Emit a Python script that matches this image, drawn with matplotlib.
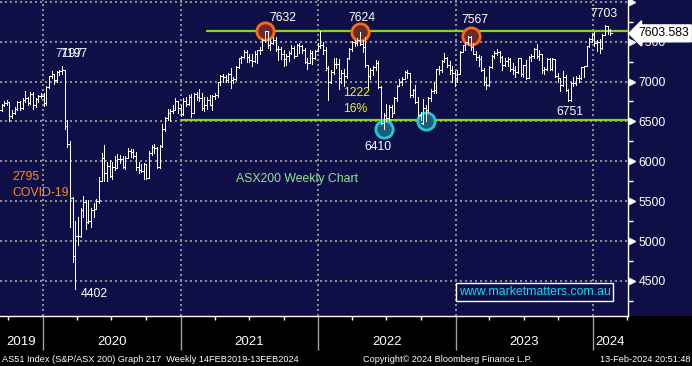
import matplotlib
matplotlib.use('Agg')
import matplotlib.pyplot as plt
import matplotlib.dates as mdates
import matplotlib.transforms as mtransforms
from matplotlib.patches import Rectangle
import numpy as np
import pandas as pd

# ---------------- data (weekly OHLC, S&P/ASX 200) ----------------
first_week = '2019-09-06'   # first weekly bar (Friday)

opens = [
    6600, 6647, 6706, 6730,  6740, 6569, 6607, 6651,  6739, 6670, 6771, 6795, 6730,  6846, 6700, 6775, 6816,
    # 2020
    6821, 6733, 6929, 7065, 7090,  7017, 7118, 7131, 7139,  6441, 6216, 5539, 4817,  5066, 5067, 5388, 5487,
    5242, 5245, 5391, 5405, 5497,  5755, 6037, 5847, 5942,  5817, 5934, 5920, 6034, 6024,  5928, 6046, 6126, 6111,
    6061, 5925, 5885, 5873,  5964, 5791, 6102, 6180, 6168,  5927, 6190, 6405, 6540,  6601, 6635, 6643, 6756, 6665,
    # 2021
    6587, 6757, 6715, 6800,  6607, 6840, 6800, 6793,  6673, 6711, 6767, 6708,  6824, 6828, 6995, 7063, 7060,
    7025, 7094, 7014, 7030,  7179, 7295, 7312, 7369,  7308, 7273, 7256, 7349, 7394,  7393, 7517, 7628, 7460,
    7488, 7522, 7406, 7403,  7342, 7276, 7320, 7363, 7415,  7324, 7457, 7443, 7396,  7239, 7233, 7354, 7293, 7387,
    # 2022
    7444, 7453, 7393, 7174,  6988, 7120, 7217, 7221,  7049, 7111, 7064, 7294,  7406, 7493, 7478, 7523, 7474,
    7435, 7205, 7075, 7145,  7182, 7238, 6931, 6475,  6578, 6548, 6675, 6605, 6792,  6945, 7000, 7033, 7115,
    7104, 6829, 6895, 6747, 6574,  6474, 6663, 6644, 6791,  6886, 6892, 7158, 7140,  7259, 7301, 7213, 7147, 7108,
    # 2023
    7039, 7099, 7374, 7452,  7494, 7558, 7433, 7347,  7307, 7284, 7144, 6995, 6955,  7178, 7325, 7362, 7366,
    7309, 7205, 7255, 7279,  7154, 7141, 7117, 7294, 7092,  7203, 7041, 7303, 7325,  7410, 7325, 7340, 7148,
    7159, 7278, 7156, 7279, 7068,  7048, 6958, 7052, 6898,  6770, 6979, 6977, 7049,  7045, 7178, 7194, 7442, 7535,
    # 2024
    7591, 7489, 7498, 7422,  7588, 7699, 7644,
]
highs = [
    6660, 6720, 6760, 6770,  6745, 6640, 6680, 6760,  6760, 6790, 6880, 6810, 6870,  6870, 6790, 6830, 6850,
    # 2020
    6850, 6940, 7070, 7130, 7100,  7130, 7150, 7197, 7140,  6520, 6260, 5550, 5250,  5300, 5420, 5560, 5520,
    5520, 5420, 5480, 5530, 5800,  6100, 6200, 5990, 6010,  5990, 6060, 6090, 6080, 6060,  6060, 6170, 6160, 6150,
    6110, 5990, 5970, 5980,  5970, 6130, 6200, 6220, 6180,  6200, 6470, 6560, 6650,  6660, 6700, 6790, 6760, 6710,
    # 2021
    6790, 6800, 6830, 6840,  6860, 6870, 6900, 6860,  6800, 6800, 6830, 6830,  6860, 7000, 7080, 7090, 7080,
    7110, 7170, 7060, 7190,  7300, 7320, 7400, 7390,  7340, 7340, 7380, 7400, 7430,  7530, 7632, 7632, 7530,
    7560, 7560, 7450, 7430,  7400, 7340, 7380, 7460, 7440,  7470, 7480, 7460, 7420,  7300, 7390, 7380, 7400, 7480,
    # 2022
    7630, 7500, 7430, 7200,  7140, 7290, 7300, 7280,  7150, 7160, 7300, 7420,  7510, 7520, 7550, 7624, 7520,
    7560, 7210, 7170, 7200,  7270, 7260, 6940, 6600,  6720, 6700, 6700, 6800, 6960,  7030, 7060, 7130, 7140,
    7110, 6910, 6960, 6800, 6620,  6780, 6700, 6800, 6900,  6990, 7160, 7190, 7270,  7360, 7310, 7260, 7190, 7130,
    # 2023
    7140, 7380, 7460, 7500,  7567, 7567, 7480, 7380,  7330, 7320, 7170, 7060, 7190,  7330, 7380, 7410, 7380,
    7320, 7300, 7310, 7290,  7230, 7190, 7300, 7300, 7210,  7270, 7320, 7340, 7420,  7470, 7400, 7340, 7180,
    7290, 7290, 7290, 7280, 7110,  7050, 7130, 7080, 6910,  6990, 7060, 7070, 7080,  7180, 7200, 7450, 7550, 7610,
    # 2024
    7620, 7520, 7530, 7600,  7703, 7700, 7660,
]
lows = [
    6520, 6630, 6690, 6700,  6500, 6540, 6590, 6640,  6640, 6660, 6740, 6700, 6720,  6650, 6680, 6740, 6790,
    # 2020
    6690, 6710, 6920, 7050, 6970,  6990, 7080, 7100, 6400,  6180, 5170, 4740, 4402,  4950, 5050, 5300, 5150,
    5230, 5180, 5300, 5400, 5480,  5750, 5750, 5750, 5800,  5780, 5890, 5920, 5980, 5920,  5900, 6040, 6050, 6040,
    5890, 5850, 5860, 5780,  5780, 5790, 6080, 6100, 5910,  5920, 6180, 6380, 6520,  6500, 6600, 6640, 6600, 6570,
    # 2021
    6580, 6690, 6700, 6560,  6600, 6770, 6760, 6640,  6630, 6650, 6700, 6640,  6780, 6810, 6960, 6990, 6990,
    7000, 6920, 6980, 7020,  7170, 7230, 7290, 7250,  7240, 7200, 7250, 7230, 7350,  7390, 7500, 7420, 7400,
    7470, 7380, 7270, 7280,  7200, 7210, 7260, 7350, 7300,  7320, 7360, 7360, 7230,  7160, 7230, 7220, 7280, 7380,
    # 2022
    7420, 7350, 7140, 6770,  6980, 7100, 7170, 6900,  6980, 6940, 7050, 7280,  7380, 7440, 7460, 7460, 7370,
    7180, 6930, 7030, 7080,  7150, 6920, 6470, 6410,  6500, 6520, 6560, 6600, 6760,  6940, 6960, 7030, 7040,
    6810, 6800, 6730, 6570, 6520,  6470, 6505, 6620, 6760,  6850, 6860, 7100, 7120,  7240, 7180, 7100, 7000, 6940,
    # 2023
    6990, 7090, 7370, 7400,  7470, 7400, 7340, 7270,  7200, 7130, 6960, 6900, 6940,  7170, 7300, 7330, 7250,
    7150, 7200, 7200, 7130,  7100, 7060, 7110, 7070, 7060,  7030, 7040, 7260, 7300,  7300, 7270, 7110, 7090,
    7150, 7140, 7150, 7060, 6990,  6880, 6950, 6880, 6760,  6751, 6950, 6960, 6990,  7030, 7060, 7190, 7430, 7490,
    # 2024
    7440, 7380, 7360, 7410,  7580, 7600, 7580,
]
closes = [
    6647, 6706, 6730, 6740,  6569, 6607, 6651, 6739,  6670, 6771, 6795, 6730, 6846,  6700, 6775, 6816, 6821,
    # 2020
    6733, 6929, 7065, 7090, 7017,  7118, 7131, 7139, 6441,  6216, 5539, 4817, 5066,  5067, 5388, 5487, 5242,
    5245, 5391, 5405, 5497, 5755,  6037, 5847, 5942, 5817,  5934, 5920, 6034, 6024, 5928,  6046, 6126, 6111, 6061,
    5925, 5885, 5873, 5964,  5791, 6102, 6180, 6168, 5927,  6190, 6405, 6540, 6601,  6635, 6643, 6756, 6665, 6587,
    # 2021
    6757, 6715, 6800, 6607,  6840, 6800, 6793, 6673,  6711, 6767, 6708, 6824,  6828, 6995, 7063, 7060, 7025,
    7094, 7014, 7030, 7179,  7295, 7312, 7369, 7308,  7273, 7256, 7349, 7394, 7393,  7517, 7628, 7460, 7488,
    7522, 7406, 7403, 7342,  7276, 7320, 7363, 7415, 7324,  7457, 7443, 7396, 7239,  7233, 7354, 7293, 7387, 7444,
    # 2022
    7453, 7393, 7174, 6988,  7120, 7217, 7221, 7049,  7111, 7064, 7294, 7406,  7493, 7478, 7523, 7474, 7435,
    7205, 7075, 7145, 7182,  7238, 6931, 6475, 6578,  6548, 6675, 6605, 6792, 6945,  7000, 7033, 7115, 7104,
    6829, 6895, 6747, 6574, 6474,  6663, 6644, 6791, 6886,  6892, 7158, 7140, 7259,  7301, 7213, 7147, 7108, 7039,
    # 2023
    7099, 7374, 7452, 7494,  7558, 7433, 7347, 7307,  7284, 7144, 6995, 6955, 7178,  7325, 7362, 7366, 7309,
    7205, 7255, 7279, 7154,  7141, 7117, 7294, 7092, 7203,  7041, 7303, 7325, 7410,  7325, 7340, 7148, 7159,
    7278, 7156, 7279, 7068, 7048,  6958, 7052, 6898, 6770,  6979, 6977, 7049, 7045,  7178, 7194, 7442, 7535, 7591,
    # 2024
    7489, 7498, 7422, 7588,  7699, 7644, 7603.583,
]

year_labels = ['2019', '2020', '2021', '2022', '2023', '2024']
y_major = [4500, 5000, 5500, 6000, 6500, 7000, 7500, 8000]
y_minor = [4250, 4750, 5250, 5750, 6250, 6750, 7250, 7750]
resistance_level = 7630
support_level = 6515
last_price = 7603.583

# annotated swing points (week dates)
peak_weeks = ['2021-08-13', '2022-04-22', '2023-02-10']
trough_weeks = ['2022-06-24', '2022-10-14']

# ---------------- style ----------------
NAVY = '#0f0f48'
GRID = '#8c8c8c'
LIME = '#8fd11a'
FONT = 'Liberation Sans'
W, H = 692, 366
AX_L, AX_R, AX_T, AX_B = 0, 628, 0, 316

fig = plt.figure(figsize=(W / 100, H / 100), dpi=100, facecolor=NAVY)
fig.add_artist(Rectangle((0, 0), 1, (H - AX_B) / H, transform=fig.transFigure,
                         facecolor='black', edgecolor='none', zorder=-5))
ax = fig.add_axes([AX_L / W, (H - AX_B) / H, (AX_R - AX_L) / W, (AX_B - AX_T) / H])
ax.set_facecolor(NAVY)

dates = pd.date_range(first_week, periods=len(closes), freq='W-FRI')
x = mdates.date2num(dates)
o = np.array(opens, float); h = np.array(highs, float)
l = np.array(lows, float); c = np.array(closes, float)

# OHLC bars
tick = 3.5
bar_kw = dict(color='white', lw=0.6, zorder=5, antialiased=False)
ax.vlines(x, l, h, **bar_kw)
ax.hlines(o, x - tick, x, **bar_kw)
ax.hlines(c, x, x + tick, **bar_kw)

x0 = mdates.date2num(pd.Timestamp('2019-09-09'))
x1 = mdates.date2num(pd.Timestamp('2024-04-03'))
ax.set_xlim(x0, x1)
ax.set_ylim(4060, 8022)

# support / resistance lines
ax.hlines(resistance_level, mdates.date2num(pd.Timestamp('2021-03-09')), x1, color=LIME, lw=1.6, zorder=4)
ax.hlines(support_level, mdates.date2num(pd.Timestamp('2021-01-01')), x1, color=LIME, lw=1.6, zorder=4)

# circles at swing points
for d in peak_weeks:
    i = dates.get_loc(pd.Timestamp(d))
    ax.scatter([x[i]], [h[i]], s=155, facecolor='#6a2a2c', edgecolor='#ff6a10', lw=2, zorder=4.5)
for d in trough_weeks:
    i = dates.get_loc(pd.Timestamp(d))
    ax.scatter([x[i]], [l[i]], s=155, facecolor='#1b5d78', edgecolor='#22c8d8', lw=2, zorder=4.5)

# axes, grid, ticks
year_starts = [mdates.date2num(pd.Timestamp(f'{y}-01-01')) for y in year_labels[1:]]
quarters = [mdates.date2num(d) for d in pd.date_range('2019-10-01', '2024-04-01', freq='QS')]
ax.set_xticks(year_starts)
ax.set_xticks(quarters, minor=True)
ax.set_xticklabels([''] * len(year_starts))
ax.tick_params(axis='x', which='major', length=24.5, width=1, color='#a0a0a0', direction='out')
ax.tick_params(axis='x', which='minor', length=3, width=1, color='white', direction='out')

ax.yaxis.tick_right()
ax.set_yticks(y_major)
ax.set_yticks(y_minor, minor=True)
ax.set_yticklabels([str(v) if v < 8000 else '' for v in y_major],
                   fontsize=8.8, color='white', family=FONT)
ax.tick_params(axis='y', which='major', length=0, pad=7.5)
ax.tick_params(axis='y', which='minor', length=3.5, width=1, color='white', direction='out')

ax.grid(True, which='major', color=GRID, lw=1.44, ls=(0, (1, 1.5)), zorder=1, antialiased=False)
ax.set_axisbelow(True)
for s in ['top', 'left']:
    ax.spines[s].set_visible(False)
for s in ['right', 'bottom']:
    ax.spines[s].set_color('white')
    ax.spines[s].set_linewidth(1)

blend_y = mtransforms.blended_transform_factory(ax.transAxes, ax.transData)
ax.plot([1.0065] * len(y_major), y_major, ls='none', marker='>', ms=5, color='white',
        transform=blend_y, clip_on=False, zorder=6)

# year labels centred on visible year spans
blend_x = mtransforms.blended_transform_factory(ax.transData, ax.transAxes)
edges = [x0] + year_starts + [x1]
for i, lab in enumerate(year_labels):
    ax.text((edges[i] + edges[i + 1]) / 2, -(342 - AX_B) / (AX_B - AX_T), lab, transform=blend_x,
            ha='center', va='center', fontsize=9.5, color='white', family=FONT)

# last price tag
ax.text(1 + 10 / (AX_R - AX_L), last_price, f'{last_price:.3f}', transform=blend_y,
        ha='left', va='center', fontsize=8.8, color='black', family=FONT, clip_on=False, zorder=10,
        bbox=dict(boxstyle='larrow,pad=0.2', fc='white', ec='white'))

# annotations (pixel positions relative to the plot box)
def axp(px, py):
    return px / (AX_R - AX_L), 1 - py / (AX_B - AX_T)

def note(px, py, s, color='white', ha='center', **kw):
    ax.text(*axp(px, py), s, transform=ax.transAxes, ha=ha, va='center',
            fontsize=8.8, color=color, family=FONT, zorder=8, **kw)

note(69, 54, '7197', color='#cfe8ff')
note(74, 54, '7197')
note(283, 18, '7632')
note(362, 18, '7624')
note(475, 20, '7567')
note(604, 14, '7703')
note(357, 93, '1222', color='#f2f21a')
note(355, 109, '16%', color='#f2f21a')
note(378, 147, '6410')
note(570, 112, '6751')
note(94, 294, '4402')
note(12, 177, '2795', color='#ff8a1c', ha='left')
note(12, 193, 'COVID-19', color='#ff8a1c', ha='left')
note(236, 179, 'ASX200 Weekly Chart', color='#8ee68e', ha='left')

bx0, by0 = axp(456, 301)
bx1, by1 = axp(613, 283)
ax.add_patch(Rectangle((bx0, by0), bx1 - bx0, by1 - by0, transform=ax.transAxes,
                       facecolor=NAVY, edgecolor='white', lw=1, zorder=8))
note(459, 292, 'www.marketmatters.com.au', color='#12d9f0', ha='left')

# footer
fy = 1 - 359 / H
fig.text(2 / W, fy, 'AS51 Index (S&P/ASX 200) Graph 217  Weekly 14FEB2019-13FEB2024',
         ha='left', va='center', fontsize=6.6, color='white', family=FONT)
fig.text(448 / W, fy, 'Copyright\u00a9 2024 Bloomberg Finance L.P.',
         ha='center', va='center', fontsize=6.6, color='white', family=FONT)
fig.text(690 / W, fy, '13-Feb-2024 20:51:48',
         ha='right', va='center', fontsize=6.6, color='white', family=FONT)

fig.savefig('out.png', dpi=100, facecolor=fig.get_facecolor())
